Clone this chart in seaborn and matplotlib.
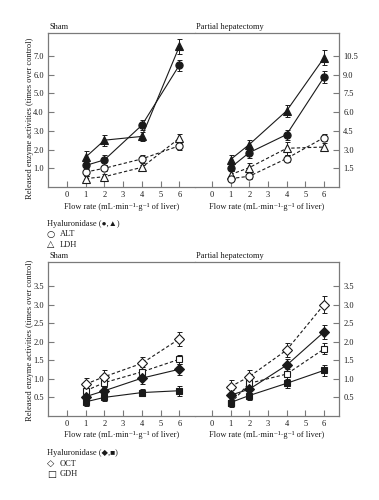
"""Released enzyme activities vs flow rate, sham vs partial hepatectomy"""
import pandas as pd
import seaborn as sns
import matplotlib.pyplot as plt

FLOW = [1, 2, 4, 6]

# top panel, sham (left scale)
SH_HYAL_LDH = [1.6, 2.5, 2.7, 7.5]
SH_HYAL_ALT = [1.15, 1.45, 3.3, 6.5]
SH_ALT = [0.8, 1.0, 1.5, 2.2]
SH_LDH = [0.45, 0.55, 1.05, 2.6]
SH_HYAL_LDH_ERR = [0.3, 0.3, 0.25, 0.4]
SH_HYAL_ALT_ERR = [0.2, 0.25, 0.25, 0.3]
SH_ALT_ERR = [0.2, 0.15, 0.2, 0.25]
SH_LDH_ERR = [0.12, 0.15, 0.15, 0.25]

# top panel, partial hepatectomy (right scale)
PH_HYAL_LDH = [2.2, 3.4, 6.1, 10.35]
PH_HYAL_ALT = [1.55, 2.75, 4.2, 8.8]
PH_ALT = [0.67, 0.86, 2.28, 3.96]
PH_LDH = [1.0, 1.55, 3.1, 3.2]
PH_HYAL_LDH_ERR = [0.4, 0.4, 0.5, 0.6]
PH_HYAL_ALT_ERR = [0.3, 0.4, 0.4, 0.45]
PH_ALT_ERR = [0.2, 0.2, 0.3, 0.3]
PH_LDH_ERR = [0.3, 0.4, 0.5, 0.3]

# bottom panel, sham
SH_HYAL_OCT = [0.51, 0.67, 1.01, 1.25]
SH_HYAL_GDH = [0.37, 0.49, 0.62, 0.67]
SH_OCT = [0.85, 1.05, 1.41, 2.07]
SH_GDH = [0.67, 0.89, 1.18, 1.52]
SH_HYAL_OCT_ERR = [0.1, 0.1, 0.15, 0.15]
SH_HYAL_GDH_ERR = [0.1, 0.1, 0.1, 0.13]
SH_OCT_ERR = [0.17, 0.17, 0.18, 0.2]
SH_GDH_ERR = [0.12, 0.12, 0.12, 0.12]

# bottom panel, partial hepatectomy
PH_HYAL_OCT = [0.55, 0.71, 1.36, 2.26]
PH_HYAL_GDH = [0.35, 0.54, 0.87, 1.22]
PH_OCT = [0.78, 1.05, 1.77, 3.0]
PH_GDH = [0.33, 0.87, 1.12, 1.8]
PH_HYAL_OCT_ERR = [0.15, 0.15, 0.18, 0.2]
PH_HYAL_GDH_ERR = [0.1, 0.12, 0.12, 0.15]
PH_OCT_ERR = [0.17, 0.18, 0.2, 0.22]
PH_GDH_ERR = [0.1, 0.12, 0.15, 0.15]

sns.set_theme(style="ticks")
FONTS = ["Liberation Serif", "DejaVu Sans"]
plt.rcParams["font.family"] = FONTS
plt.rcParams["font.size"] = 6.0

FS = 6.0
SPINE = "#7a7a7a"
INK = "#1a1a1a"
XLAB = "Flow rate (mL\u00b7min\u207b\u00b9\u00b7g\u207b\u00b9 of liver)"
YLAB = "Released enzyme activities (times over control)"


def series(ax, vals, errs, marker, filled):
    """draw one series with seaborn plus capped error bars"""
    df = pd.DataFrame({"x": FLOW, "y": vals})
    sns.lineplot(data=df, x="x", y="y", ax=ax, color=INK, lw=0.8,
                 linestyle="-" if filled else (0, (3, 2)),
                 marker=marker, markersize=5.2 if marker != "s" else 4.6,
                 markerfacecolor=INK if filled else "white",
                 markeredgecolor=INK, markeredgewidth=0.8, zorder=3)
    ax.errorbar(FLOW, vals, yerr=errs, fmt="none", ecolor=INK,
                elinewidth=0.7, capsize=1.8, capthick=0.7, zorder=2)


def style(ax, ylim, yticks, side, xlim):
    ax.set_xlim(*xlim)
    ax.set_ylim(*ylim)
    ax.set_xticks(range(0, 7))
    ax.set_yticks(yticks)
    ax.set_yticklabels([f"{t:.1f}" for t in yticks])
    ax.tick_params(direction="in", length=4.5, width=0.8, color=SPINE,
                   labelsize=FS, pad=3, labelcolor=INK)
    if side == "right":
        ax.yaxis.tick_right()
        ax.spines["left"].set_visible(False)
    else:
        ax.spines["right"].set_color("#b0b0b0")
        ax.spines["right"].set_linewidth(0.7)
    for s in ["left", "top", "bottom"] + (["right"] if side == "right" else []):
        ax.spines[s].set_color(SPINE)
        ax.spines[s].set_linewidth(0.9)
    ax.set_xlabel(XLAB, fontsize=FS, labelpad=2.5, color=INK)
    ax.set_ylabel("")


fig = plt.figure(figsize=(3.79, 5.0), dpi=100)
ax1 = fig.add_axes([0.1266, 0.626, 0.388, 0.308])
ax2 = fig.add_axes([0.5145, 0.626, 0.380, 0.308])
ax3 = fig.add_axes([0.1266, 0.169, 0.388, 0.307])
ax4 = fig.add_axes([0.5145, 0.169, 0.380, 0.307])

series(ax1, SH_LDH, SH_LDH_ERR, "^", False)
series(ax1, SH_ALT, SH_ALT_ERR, "o", False)
series(ax1, SH_HYAL_ALT, SH_HYAL_ALT_ERR, "o", True)
series(ax1, SH_HYAL_LDH, SH_HYAL_LDH_ERR, "^", True)

series(ax2, PH_LDH, PH_LDH_ERR, "^", False)
series(ax2, PH_ALT, PH_ALT_ERR, "o", False)
series(ax2, PH_HYAL_ALT, PH_HYAL_ALT_ERR, "o", True)
series(ax2, PH_HYAL_LDH, PH_HYAL_LDH_ERR, "^", True)

series(ax3, SH_GDH, SH_GDH_ERR, "s", False)
series(ax3, SH_OCT, SH_OCT_ERR, "D", False)
series(ax3, SH_HYAL_GDH, SH_HYAL_GDH_ERR, "s", True)
series(ax3, SH_HYAL_OCT, SH_HYAL_OCT_ERR, "D", True)

series(ax4, PH_GDH, PH_GDH_ERR, "s", False)
series(ax4, PH_OCT, PH_OCT_ERR, "D", False)
series(ax4, PH_HYAL_GDH, PH_HYAL_GDH_ERR, "s", True)
series(ax4, PH_HYAL_OCT, PH_HYAL_OCT_ERR, "D", True)

style(ax1, (0, 8.22), [1.0, 2.0, 3.0, 4.0, 5.0, 6.0, 7.0], "left", (-1.02, 6.84))
style(ax2, (0, 12.33), [1.5, 3.0, 4.5, 6.0, 7.5, 9.0, 10.5], "right", (-0.9, 6.8))
style(ax3, (0, 4.15), [0.5, 1.0, 1.5, 2.0, 2.5, 3.0, 3.5], "left", (-1.02, 6.84))
style(ax4, (0, 4.15), [0.5, 1.0, 1.5, 2.0, 2.5, 3.0, 3.5], "right", (-0.9, 6.8))

for ax, title in [(ax1, "Sham"), (ax2, "Partial hepatectomy"),
                  (ax3, "Sham"), (ax4, "Partial hepatectomy")]:
    ax.text(0.01, 1.012, title, transform=ax.transAxes, fontsize=FS,
            ha="left", va="bottom", color=INK)

fig.text(0.079, 0.764, YLAB, rotation=90, ha="center", va="center",
         fontsize=FS, color=INK)
fig.text(0.079, 0.32, YLAB, rotation=90, ha="center", va="center",
         fontsize=FS, color=INK)

legends = [
    (0.552, "Hyaluronidase (\u25cf,\u25b2)", [("\u25cb", "ALT"), ("\u25b3", "LDH")]),
    (0.094, "Hyaluronidase (\u25c6,\u25a0)", [("\u25c7", "OCT"), ("\u25a1", "GDH")]),
]
for y0, head, rows in legends:
    fig.text(0.124, y0, head, fontsize=FS, color=INK, ha="left", va="center")
    for i, (sym, name) in enumerate(rows):
        yy = y0 - (i + 1) * 0.021
        fig.text(0.124, yy, sym, fontsize=6.8, color=INK, ha="left",
                 va="center", family="DejaVu Sans")
        fig.text(0.158, yy, name, fontsize=FS, color=INK, ha="left",
                 va="center")

fig.savefig("out.png", dpi=100)
